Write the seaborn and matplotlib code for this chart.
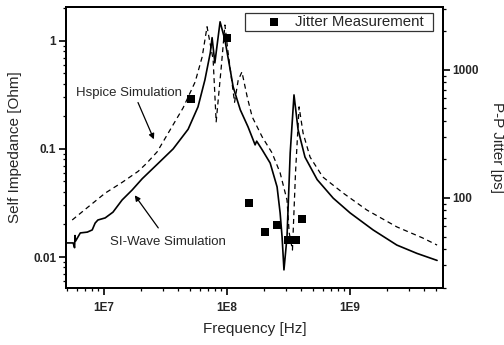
import numpy as np
import pandas as pd
import matplotlib
matplotlib.use("Agg")
import matplotlib.pyplot as plt
import matplotlib.ticker as mticker
import seaborn as sns

# SI-Wave simulation (solid)
si_freq = [5.0e6, 5.6e6, 5.75e6, 5.8e6, 5.85e6, 6.4e6, 7.3e6, 8.0e6, 8.45e6, 8.9e6,
           1.02e7, 1.18e7, 1.4e7, 1.69e7, 2.04e7, 2.7e7, 3.64e7, 4.82e7, 5.8e7, 6.6e7,
           7.3e7, 7.55e7, 7.95e7, 8.77e7, 9.6e7, 1.06e8, 1.12e8, 1.28e8, 1.48e8, 1.69e8,
           1.74e8, 1.93e8, 2.24e8, 2.55e8, 2.7e8, 2.8e8, 2.9e8, 3.07e8, 3.26e8, 3.5e8,
           3.78e8, 4.3e8, 5.4e8, 7.3e8, 1.0e9, 1.54e9, 2.4e9, 3.5e9, 5.1e9]
si_z = [0.0135, 0.0135, 0.0122, 0.0158, 0.0140, 0.0167, 0.0170, 0.0178, 0.0206, 0.022,
        0.023, 0.026, 0.0337, 0.0417, 0.053, 0.072, 0.100, 0.152, 0.245, 0.435,
        0.775, 1.07, 0.625, 1.5, 1.02, 0.54, 0.375, 0.23, 0.16, 0.109,
        0.118, 0.098, 0.074, 0.0445, 0.0255, 0.0153, 0.0076, 0.0153, 0.092, 0.316,
        0.15, 0.084, 0.052, 0.035, 0.0256, 0.0178, 0.0129, 0.0108, 0.0093]

# Hspice simulation (dashed)
hs_freq = [5.5e6, 7.4e6, 1.02e7, 1.4e7, 1.89e7, 2.2e7, 2.7e7, 3.44e7, 4.39e7, 5.5e7,
           6.27e7, 6.87e7, 7.7e7, 8.15e7, 9.0e7, 9.6e7, 1.02e8, 1.15e8, 1.23e8, 1.32e8,
           1.46e8, 1.6e8, 1.93e8, 2.32e8, 2.7e8, 3.07e8, 3.2e8, 3.4e8, 3.6e8, 3.85e8,
           4.15e8, 4.73e8, 6.0e8, 8.8e8, 1.37e9, 2.4e9, 3.9e9, 5.1e9]
hs_z = [0.022, 0.029, 0.039, 0.049, 0.062, 0.073, 0.094, 0.15, 0.24, 0.417,
        0.71, 1.35, 0.67, 0.178, 0.6, 1.4, 0.77, 0.27, 0.43, 0.516,
        0.30, 0.198, 0.129, 0.092, 0.06, 0.0337, 0.0167, 0.0116, 0.06, 0.245,
        0.14, 0.084, 0.055, 0.039, 0.0272, 0.019, 0.015, 0.0129]

# jitter measurement (right axis)
jit_freq = [5.1e7, 1.0e8, 1.5e8, 2.04e8, 2.55e8, 3.1e8, 3.6e8, 4.1e8]
jit_ps = [593, 1778, 91, 54, 61.5, 47, 47, 69]

sns.set_theme(style="ticks")
plt.rcParams["font.family"] = ["Liberation Sans", "DejaVu Sans"]

si = pd.DataFrame({"freq": si_freq, "z": si_z})
hs = pd.DataFrame({"freq": hs_freq, "z": hs_z})
jit = pd.DataFrame({"freq": jit_freq, "ps": jit_ps})

fig = plt.figure(figsize=(5.04, 3.45), dpi=100)
ax = fig.add_axes([0.131, 0.165, 0.748, 0.815])

sns.lineplot(data=si, x="freq", y="z", ax=ax, color="black", lw=1.2,
             estimator=None, sort=False)
sns.lineplot(data=hs, x="freq", y="z", ax=ax, color="black", lw=0.9,
             linestyle=(0, (4, 3)), estimator=None, sort=False)
ax.set_xscale("log")
ax.set_yscale("log")
ax.set_xlim(4.9e6, 5.7e9)
ax.set_ylim(0.00516, 2.06)

ax2 = ax.twinx()
sns.scatterplot(data=jit, x="freq", y="ps", ax=ax2, marker="s", color="black",
                s=30, edgecolor="black", linewidth=0, label="Jitter Measurement")
ax2.set_yscale("log")
ax2.set_ylim(19.8, 3105)
ax2.set_xlim(4.9e6, 5.7e9)

ax.xaxis.set_major_locator(mticker.FixedLocator([1e7, 1e8, 1e9]))
ax.xaxis.set_major_formatter(mticker.FixedFormatter(["1E7", "1E8", "1E9"]))
ax.xaxis.set_minor_locator(mticker.LogLocator(base=10, subs=np.arange(2, 10)))
ax.xaxis.set_minor_formatter(mticker.NullFormatter())
ax.yaxis.set_major_locator(mticker.FixedLocator([0.01, 0.1, 1]))
ax.yaxis.set_major_formatter(mticker.FixedFormatter(["0.01", "0.1", "1"]))
ax.yaxis.set_minor_locator(mticker.LogLocator(base=10, subs=np.arange(2, 10)))
ax.yaxis.set_minor_formatter(mticker.NullFormatter())
ax2.yaxis.set_major_locator(mticker.FixedLocator([100, 1000]))
ax2.yaxis.set_major_formatter(mticker.FixedFormatter(["100", "1000"]))
ax2.yaxis.set_minor_locator(mticker.LogLocator(base=10, subs=np.arange(2, 10)))
ax2.yaxis.set_minor_formatter(mticker.NullFormatter())

for a in (ax, ax2):
    for sp in a.spines.values():
        sp.set_linewidth(1.4)
        sp.set_color("black")
        sp.set_visible(True)
    a.tick_params(which="major", length=5, width=1.2, color="black",
                  labelsize=8.5, pad=2, direction="out")
    a.tick_params(which="minor", length=2.5, width=0.9, color="black",
                  direction="out")
ax.tick_params(axis="x", which="major", pad=5)
for lab in ax.get_xticklabels() + ax.get_yticklabels() + ax2.get_yticklabels():
    lab.set_fontweight("bold")

ax.set_xlabel("Frequency [Hz]", fontsize=11, labelpad=6)
ax.set_ylabel("Self Impedance [Ohm]", fontsize=11, labelpad=8)
ax2.set_ylabel("P-P Jitter [ps]", fontsize=11, rotation=270, labelpad=18)

leg = ax2.legend(loc="upper left", bbox_to_anchor=(0.475, 0.0, 0.499, 0.979),
                 mode="expand", borderaxespad=0.0,
                 frameon=True, fancybox=False, fontsize=10.8,
                 handlelength=3.6, handletextpad=-0.45, borderpad=0.15)
leg.get_frame().set_edgecolor("black")
leg.get_frame().set_linewidth(0.9)

ax.text(0.167, 0.695, "Hspice Simulation", transform=ax.transAxes,
        ha="center", va="center", fontsize=9.5)
ax.annotate("", xy=(0.236, 0.520), xytext=(0.188, 0.669),
            xycoords="axes fraction", textcoords="axes fraction",
            arrowprops=dict(arrowstyle="-|>", color="black", lw=0.9,
                            mutation_scale=8))
ax.text(0.271, 0.164, "SI-Wave Simulation", transform=ax.transAxes,
        ha="center", va="center", fontsize=9.5)
ax.annotate("", xy=(0.178, 0.338), xytext=(0.249, 0.206),
            xycoords="axes fraction", textcoords="axes fraction",
            arrowprops=dict(arrowstyle="-|>", color="black", lw=0.9,
                            mutation_scale=8))

fig.savefig("out.png", dpi=100)
